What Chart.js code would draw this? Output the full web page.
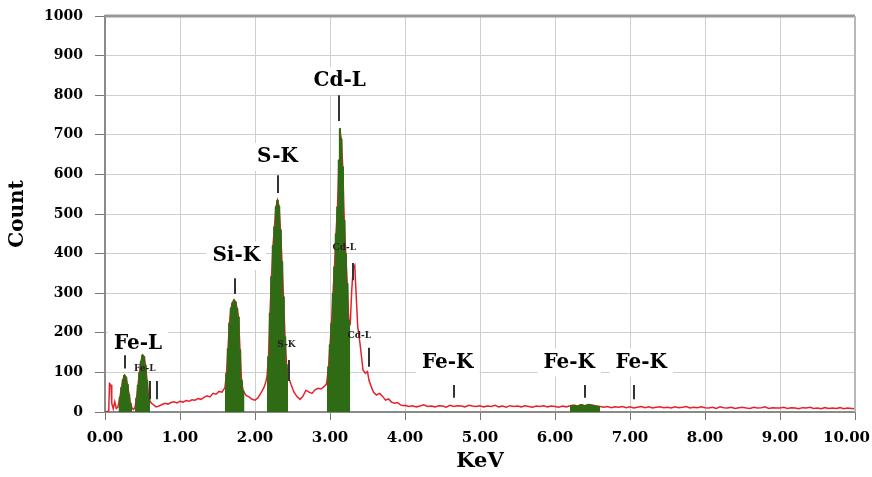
<!DOCTYPE html>
<html>
<head>
<meta charset="utf-8">
<script src="https://cdn.jsdelivr.net/npm/chart.js@4.4.1/dist/chart.umd.min.js"></script>
<style>
  html, body { margin: 0; padding: 0; background: #fff; }
  canvas { display: block; }
</style>
</head>
<body>
<canvas id="eds-chart" width="872" height="477"></canvas>
<script>
// EDS spectrum
const energy = [
  0.00, 0.03, 0.05, 0.06, 0.08, 0.09, 0.11, 0.13, 0.15, 0.17,
  0.18, 0.20, 0.22, 0.24, 0.26, 0.28, 0.30, 0.32, 0.34, 0.36, 0.38,
  0.40, 0.42, 0.44, 0.46, 0.48, 0.50, 0.52, 0.54, 0.56, 0.58, 0.60,
  0.62, 0.65, 0.68, 0.72, 0.76, 0.80, 0.84, 0.88, 0.92, 0.96,
  1.00, 1.04, 1.08, 1.12, 1.16, 1.20, 1.24, 1.28, 1.32, 1.36,
  1.40, 1.44, 1.48, 1.52, 1.56, 1.58,
  1.60, 1.62, 1.64, 1.66, 1.68, 1.70, 1.72, 1.74, 1.76, 1.78, 1.80, 1.82, 1.84, 1.86,
  1.88, 1.92, 1.96, 2.00, 2.04, 2.08, 2.12, 2.14,
  2.16, 2.18, 2.20, 2.22, 2.24, 2.26, 2.28, 2.30, 2.32, 2.34, 2.36, 2.38, 2.40, 2.42, 2.44,
  2.46, 2.48, 2.52, 2.56, 2.60, 2.64, 2.68, 2.72, 2.76, 2.80, 2.84, 2.88, 2.92, 2.95,
  2.96, 2.98, 3.00, 3.02, 3.04, 3.06, 3.08, 3.10, 3.12, 3.13, 3.15, 3.17, 3.19, 3.21, 3.23, 3.25, 3.27,
  3.29, 3.31, 3.33, 3.35, 3.37, 3.40, 3.44, 3.47, 3.50, 3.52, 3.55, 3.58, 3.62, 3.66,
  3.70, 3.74, 3.78, 3.82, 3.86, 3.90, 3.94, 3.98,
  4.00, 4.05, 4.10, 4.15, 4.20, 4.25, 4.30, 4.35, 4.40, 4.45,
  4.50, 4.55, 4.60, 4.65, 4.70, 4.75, 4.80, 4.85, 4.90, 4.95,
  5.00, 5.05, 5.10, 5.15, 5.20, 5.25, 5.30, 5.35, 5.40, 5.45,
  5.50, 5.55, 5.60, 5.65, 5.70, 5.75, 5.80, 5.85, 5.90, 5.95,
  6.00, 6.05, 6.10, 6.15,
  6.20, 6.25, 6.30, 6.35, 6.40, 6.45, 6.50, 6.55, 6.60,
  6.65, 6.70, 6.75, 6.80, 6.85, 6.90, 6.95,
  7.00, 7.05, 7.10, 7.15, 7.20, 7.25, 7.30, 7.35, 7.40, 7.45,
  7.50, 7.55, 7.60, 7.65, 7.70, 7.75, 7.80, 7.85, 7.90, 7.95,
  8.00, 8.05, 8.10, 8.15, 8.20, 8.25, 8.30, 8.35, 8.40, 8.45,
  8.50, 8.55, 8.60, 8.65, 8.70, 8.75, 8.80, 8.85, 8.90, 8.95,
  9.00, 9.05, 9.10, 9.15, 9.20, 9.25, 9.30, 9.35, 9.40, 9.45,
  9.50, 9.55, 9.60, 9.65, 9.70, 9.75, 9.80, 9.85, 9.90, 9.95, 10.00
];
const counts = [
  0, 1, 3, 72, 68, 22, 8, 26, 9, 12,
  20, 38, 62, 82, 93, 88, 70, 45, 22, 10, 6,
  12, 35, 68, 100, 128, 144, 140, 118, 80, 45, 27,
  22, 18, 13, 15, 19, 22, 20, 24, 26, 23,
  27, 25, 29, 27, 31, 30, 34, 32, 37, 41,
  38, 47, 45, 52, 50, 56,
  62, 98, 160, 225, 262, 276, 283, 278, 262, 240, 157, 81, 55, 48,
  42, 38, 32, 30, 36, 48, 62, 73,
  90, 140, 250, 342, 420, 468, 518, 535, 520, 460, 380, 291, 190, 120, 89,
  81, 70, 50, 39, 32, 40, 55, 50, 47, 56, 60, 58, 64, 70,
  80, 114, 170, 224, 300, 367, 450, 518, 636, 716, 690, 619, 485, 400, 325, 232, 224,
  308, 363, 370, 291, 215, 173, 106, 98, 102, 80, 64, 50, 43, 47,
  40, 30, 33, 25, 22, 24, 18, 16,
  17, 14, 16, 13, 15, 18, 14, 15, 13, 16,
  15, 12, 17, 14, 16, 15, 13, 17, 15, 14,
  16, 13, 15, 14, 17, 13, 15, 12, 16, 14,
  15, 13, 16, 14, 12, 15, 14, 16, 13, 15,
  14, 12, 15, 13,
  16, 17, 15, 18, 16, 19, 17, 15, 14,
  12, 14, 11, 13, 12, 14, 11,
  13, 10, 12, 14, 11, 13, 10, 12, 13, 11,
  12, 10, 13, 11, 12, 14, 10, 12, 11, 13,
  11, 10, 12, 9, 13, 11, 10, 12, 9, 11,
  12, 10, 9, 12, 10, 11, 13, 9, 11, 10,
  10, 12, 9, 11, 10, 8, 11, 10, 12, 9,
  10, 8, 11, 9, 10, 9, 11, 8, 10, 9, 8
];
// energy windows shaded green (keV)
const peakWindows = [[0.18, 0.36], [0.40, 0.60], [1.60, 1.86], [2.16, 2.44], [2.96, 3.27], [6.20, 6.60]];

// peak labels: text, keV, count, big
const peakLabels = [
  ['Fe-L', 0.44, 172, true],
  ['Fe-L', 0.53, 110, false],
  ['Si-K', 1.75, 394, true],
  ['S-K', 2.30, 644, true],
  ['S-K', 2.42, 169, false],
  ['Cd-L', 3.13, 836, true],
  ['Cd-L', 3.19, 415, false],
  ['Cd-L', 3.39, 194, false],
  ['Fe-K', 4.57, 125, true],
  ['Fe-K', 6.19, 125, true],
  ['Fe-K', 7.15, 125, true]
];
// small vertical marker lines: keV, from count, to count
const peakMarkers = [
  [0.27, 110, 143], [0.60, 32, 78], [0.69, 32, 78],
  [1.73, 298, 338], [2.30, 553, 598], [2.45, 78, 131],
  [3.12, 735, 800], [3.31, 333, 376], [3.52, 114, 162],
  [4.65, 36, 68], [6.40, 36, 68], [7.05, 32, 68]
];

const serif = '"DejaVu Serif", "Liberation Serif", serif';

const spectrum = energy.map((e, i) => ({ x: e, y: counts[i] }));
const shaded = energy.map((e, i) => {
  const inside = peakWindows.some(w => e >= w[0] - 1e-9 && e <= w[1] + 1e-9);
  return { x: e, y: inside ? counts[i] : null };
});

// white boxes, peak labels, marker lines and frame
const labelPlugin = {
  id: 'peakLabels',
  beforeDatasetsDraw(chart) {
    const { ctx, scales: { x, y } } = chart;
    ctx.save();
    ctx.font = 'bold 20px ' + serif;
    ctx.fillStyle = '#fff';
    peakLabels.forEach(([text, kev, cnt, big]) => {
      if (!big) return;
      const w = ctx.measureText(text).width;
      const px = x.getPixelForValue(kev), py = y.getPixelForValue(cnt);
      ctx.fillRect(px - w / 2 - 6, py - 14, w + 12, 28);
    });
    ctx.restore();
  },
  afterDatasetsDraw(chart) {
    const { ctx, scales: { x, y } } = chart;
    ctx.save();
    ctx.textAlign = 'center';
    ctx.textBaseline = 'middle';
    peakLabels.forEach(([text, kev, cnt, big]) => {
      ctx.font = big ? 'bold 20px ' + serif : 'bold 9px ' + serif;
      ctx.fillStyle = big ? '#000' : '#222';
      ctx.fillText(text, x.getPixelForValue(kev), y.getPixelForValue(cnt));
    });
    ctx.strokeStyle = '#333';
    ctx.lineWidth = 2;
    peakMarkers.forEach(([kev, lo, hi]) => {
      const px = Math.round(x.getPixelForValue(kev));
      ctx.beginPath();
      ctx.moveTo(px, y.getPixelForValue(lo));
      ctx.lineTo(px, y.getPixelForValue(hi));
      ctx.stroke();
    });
    const a = chart.chartArea;
    ctx.strokeStyle = '#999';
    ctx.lineWidth = 3;
    ctx.beginPath();
    ctx.moveTo(a.left, a.top);
    ctx.lineTo(a.right, a.top);
    ctx.stroke();
    ctx.strokeStyle = '#b8b8b8';
    ctx.lineWidth = 2;
    ctx.beginPath();
    ctx.moveTo(a.right, a.top);
    ctx.lineTo(a.right, a.bottom);
    ctx.stroke();
    ctx.restore();
  },
  afterDraw(chart) {
    // last x label is pulled in so it stays on the canvas, as in the original
    const { ctx, scales: { x } } = chart;
    ctx.save();
    ctx.font = 'bold 15px ' + serif;
    ctx.fillStyle = '#000';
    ctx.textAlign = 'right';
    ctx.textBaseline = 'middle';
    ctx.fillText((10).toFixed(2), chart.width - 2, x.top + 8 + 9 + 9);
    ctx.restore();
  }
};

new Chart(document.getElementById('eds-chart').getContext('2d'), {
  type: 'line',
  data: {
    datasets: [
      {
        label: 'peaks',
        data: shaded,
        borderColor: '#2f6a14',
        backgroundColor: '#2f6a14',
        borderWidth: 1,
        pointRadius: 0,
        stepped: 'middle',
        fill: 'origin',
        spanGaps: false,
        order: 1
      },
      {
        label: 'spectrum',
        data: spectrum,
        borderColor: '#e8202a',
        borderWidth: 1.5,
        pointRadius: 0,
        fill: false,
        order: 2
      }
    ]
  },
  options: {
    responsive: false,
    animation: false,
    layout: { padding: { top: 16, right: 17, left: 0, bottom: 0 } },
    plugins: { legend: { display: false }, tooltip: { enabled: false } },
    scales: {
      x: {
        type: 'linear',
        min: 0,
        max: 10,
        afterFit(scale) { scale.height = 65; scale.paddingLeft = 0; scale.paddingRight = 0; },
        ticks: {
          stepSize: 1,
          padding: 9,
          color: '#000',
          font: { family: serif, size: 15, weight: 'bold' },
          callback: v => (v === 10 ? '' : v.toFixed(2))
        },
        grid: { color: '#cfcfcf', lineWidth: 1, tickLength: 8, tickColor: '#777' },
        border: { color: '#8a8a8a', width: 2 },
        title: {
          display: true,
          text: 'KeV',
          color: '#000',
          padding: { top: 0, bottom: 3 },
          font: { family: serif, size: 21, weight: 'bold' }
        }
      },
      y: {
        min: 0,
        max: 1000,
        afterFit(scale) { scale.width = 105; scale.paddingTop = 0; scale.paddingBottom = 0; },
        ticks: {
          stepSize: 100,
          padding: 12,
          color: '#000',
          font: { family: serif, size: 14, weight: 'bold' },
          callback: v => String(v)
        },
        grid: { color: '#cfcfcf', lineWidth: 1, tickLength: 10, tickColor: '#777' },
        border: { color: '#8a8a8a', width: 2 },
        title: {
          display: true,
          text: 'Count',
          color: '#000',
          padding: { top: 6, bottom: 0 },
          font: { family: serif, size: 20, weight: 'bold' }
        }
      }
    }
  },
  plugins: [labelPlugin]
});
</script>
</body>
</html>
